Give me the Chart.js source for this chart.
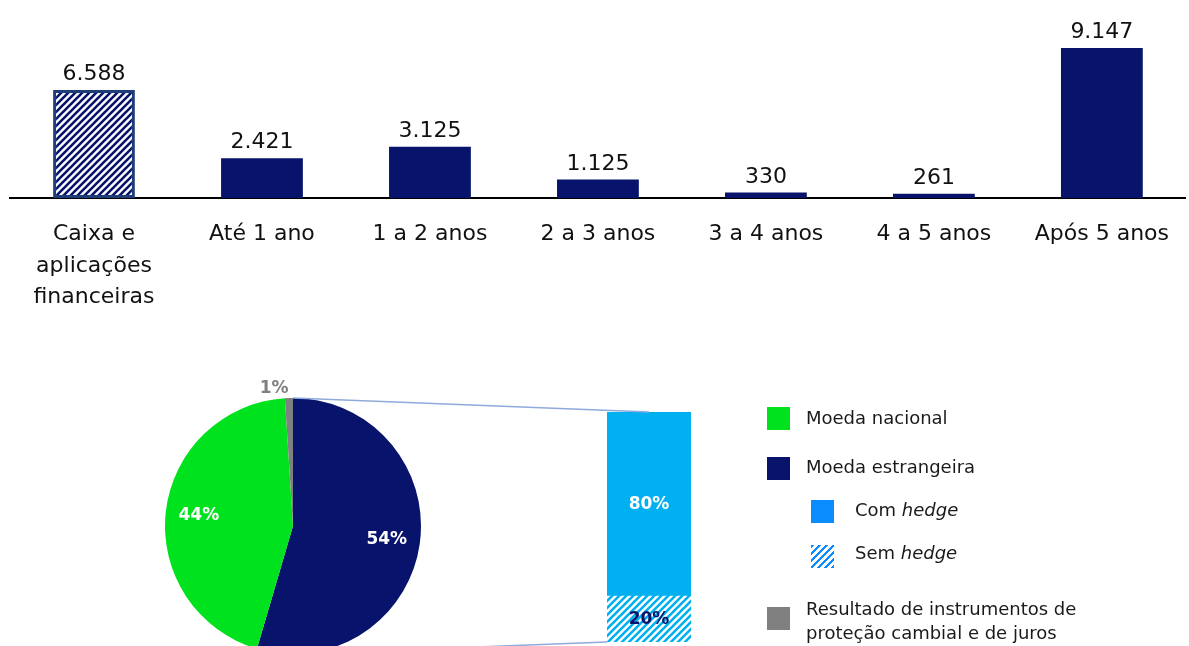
<!DOCTYPE html>
<html>
<head>
  <meta charset="utf-8">
  <title>Cronograma de amortização</title>
  <script src="https://cdn.jsdelivr.net/npm/chart.js"></script>
  <style>
    body {
      margin: 0;
      width: 1189px;
      height: 646px;
      overflow: hidden;
      background: #fff;
      position: relative;
      font-family: 'DejaVu Sans', sans-serif;
    }
    .box { position: absolute; }
    .legend-item {
      position: absolute;
      font-size: 18px;
      color: #1a1a1a;
      line-height: 24px;
    }
    .swatch {
      position: absolute;
      width: 23px;
      height: 23px;
    }
    #overlay { position: absolute; left: 0; top: 0; pointer-events: none; }
  </style>
</head>
<body>
  <div class="box" style="left:0;top:0;"><canvas id="maturityChart" width="1189" height="320"></canvas></div>
  <div class="box" style="left:155px;top:370px;"><canvas id="currencyChart" width="276" height="292"></canvas></div>
  <div class="box" style="left:607px;top:412px;"><canvas id="hedgeChart" width="84" height="230"></canvas></div>
  <canvas id="overlay" width="1189" height="646"></canvas>

  <div class="swatch" style="left:767px;top:407px;background:#00e21e;"></div>
  <div class="legend-item" style="left:806px;top:406px;">Moeda nacional</div>
  <div class="swatch" style="left:767px;top:457px;background:#08136b;"></div>
  <div class="legend-item" style="left:806px;top:455px;">Moeda estrangeira</div>
  <div class="swatch" style="left:811px;top:500px;background:#0a8cff;"></div>
  <div class="legend-item" style="left:855px;top:498px;">Com <i>hedge</i></div>
  <div class="swatch" style="left:811px;top:545px;background:repeating-linear-gradient(135deg,#0a8cff 0 2.5px,#fff 2.5px 5px);"></div>
  <div class="legend-item" style="left:855px;top:541px;">Sem <i>hedge</i></div>
  <div class="swatch" style="left:767px;top:607px;background:#808080;"></div>
  <div class="legend-item" style="left:806px;top:597px;">Resultado de instrumentos de<br>proteção cambial e de juros</div>

  <script>
    const categories = [['Caixa e', 'aplicações', 'financeiras'], 'Até 1 ano', '1 a 2 anos', '2 a 3 anos', '3 a 4 anos', '4 a 5 anos', 'Após 5 anos'];
    const amounts = [6588, 2421, 3125, 1125, 330, 261, 9147];

    const currencyLabels = ['Moeda estrangeira', 'Moeda nacional', 'Resultado de instrumentos de proteção cambial e de juros'];
    const currencyShares = [54, 44, 1];

    const hedgeLabels = ['Sem hedge', 'Com hedge'];
    const hedgeShares = [20, 80];

    const NAVY = '#08136b';
    const FONT = "'DejaVu Sans', sans-serif";

    function stripes(color) {
      const s = 7;
      const c = document.createElement('canvas');
      c.width = s; c.height = s;
      const g = c.getContext('2d');
      g.fillStyle = '#fff';
      g.fillRect(0, 0, s, s);
      g.strokeStyle = color;
      g.lineWidth = 2.6;
      g.beginPath();
      g.moveTo(-1, 1); g.lineTo(1, -1);
      g.moveTo(0, s); g.lineTo(s, 0);
      g.moveTo(s - 1, s + 1); g.lineTo(s + 1, s - 1);
      g.stroke();
      return g.createPattern(c, 'repeat');
    }

    function fmt(n) {
      return n.toString().replace(/\B(?=(\d{3})+(?!\d))/g, '.');
    }

    // valores acima das barras
    const valueLabels = {
      id: 'valueLabels',
      afterDatasetsDraw(chart) {
        const ctx = chart.ctx;
        const meta = chart.getDatasetMeta(0);
        ctx.save();
        ctx.font = '22px ' + FONT;
        ctx.fillStyle = '#111';
        ctx.textAlign = 'center';
        ctx.textBaseline = 'alphabetic';
        meta.data.forEach((bar, i) => {
          ctx.fillText(fmt(amounts[i]), bar.x, bar.y - 10);
        });
        ctx.restore();
      }
    };

    new Chart(document.getElementById('maturityChart'), {
      type: 'bar',
      data: {
        labels: categories,
        datasets: [{
          data: amounts,
          backgroundColor: amounts.map((_, i) => i === 0 ? stripes(NAVY) : NAVY),
          borderColor: amounts.map((_, i) => i === 0 ? '#1f3d78' : NAVY),
          borderWidth: amounts.map((_, i) => i === 0 ? 3 : 0),
          borderSkipped: false,
          barPercentage: 0.487,
          categoryPercentage: 1
        }]
      },
      options: {
        responsive: false,
        animation: false,
        layout: { padding: { left: 10, right: 0, top: 34, bottom: 0 } },
        plugins: { legend: { display: false }, tooltip: { enabled: false } },
        scales: {
          x: {
            grid: { display: false, drawTicks: false },
            border: { display: true, color: '#000', width: 2 },
            ticks: {
              color: '#111',
              padding: 20,
              maxRotation: 0,
              autoSkip: false,
              font: { family: FONT, size: 22, lineHeight: 1.45 }
            },
            afterFit(scale) { scale.height = 122; }
          },
          y: { display: false, min: 0, max: 10000 }
        }
      },
      plugins: [valueLabels]
    });

    // rótulos percentuais da pizza
    const pieLabels = {
      id: 'pieLabels',
      afterDatasetsDraw(chart) {
        const ctx = chart.ctx;
        const meta = chart.getDatasetMeta(0);
        ctx.save();
        ctx.font = 'bold 17px ' + FONT;
        ctx.textBaseline = 'middle';
        meta.data.forEach((arc, i) => {
          const mid = (arc.startAngle + arc.endAngle) / 2;
          const small = currencyShares[i] < 5;
          const r = small ? arc.outerRadius + 9 : arc.outerRadius * 0.74;
          const x = arc.x + Math.cos(mid) * r;
          const y = arc.y + Math.sin(mid) * r;
          ctx.fillStyle = small ? '#808080' : '#fff';
          ctx.textAlign = small ? (x < arc.x ? 'right' : 'left') : 'center';
          ctx.fillText(currencyShares[i] + '%', x, y);
        });
        ctx.restore();
      }
    };

    const pie = new Chart(document.getElementById('currencyChart'), {
      type: 'pie',
      data: {
        labels: currencyLabels,
        datasets: [{
          data: currencyShares,
          backgroundColor: [NAVY, '#00e21e', '#808080'],
          borderWidth: 0
        }]
      },
      options: {
        responsive: false,
        animation: false,
        layout: { padding: { left: 10, right: 10, top: 28, bottom: 8 } },
        plugins: { legend: { display: false }, tooltip: { enabled: false } }
      },
      plugins: [pieLabels]
    });

    const hedgeValueLabels = {
      id: 'hedgeValueLabels',
      afterDatasetsDraw(chart) {
        const ctx = chart.ctx;
        ctx.save();
        ctx.font = 'bold 17px ' + FONT;
        ctx.textAlign = 'center';
        ctx.textBaseline = 'middle';
        chart.data.datasets.forEach((ds, d) => {
          const bar = chart.getDatasetMeta(d).data[0];
          ctx.fillStyle = d === 0 ? NAVY : '#fff';
          ctx.fillText(ds.data[0] + '%', bar.x, (bar.y + bar.base) / 2 + 1);
        });
        ctx.restore();
      }
    };

    const hedge = new Chart(document.getElementById('hedgeChart'), {
      type: 'bar',
      data: {
        labels: ['Moeda estrangeira'],
        datasets: [
          { label: hedgeLabels[0], data: [hedgeShares[0]], backgroundColor: stripes('#00b0f0') },
          { label: hedgeLabels[1], data: [hedgeShares[1]], backgroundColor: '#00b0f0' }
        ]
      },
      options: {
        responsive: false,
        animation: false,
        barPercentage: 1,
        categoryPercentage: 1,
        layout: { padding: 0 },
        plugins: { legend: { display: false }, tooltip: { enabled: false } },
        scales: {
          x: { display: false, stacked: true },
          y: { display: false, stacked: true, min: 0, max: 100 }
        }
      },
      plugins: [hedgeValueLabels]
    });

    // linhas ligando a fatia da moeda estrangeira à barra de hedge
    function drawConnectors() {
      const ov = document.getElementById('overlay').getContext('2d');
      const pr = pie.canvas.getBoundingClientRect();
      const hr = hedge.canvas.getBoundingClientRect();
      const arc = pie.getDatasetMeta(0).data[0];
      const top = hedge.getDatasetMeta(1).data[0];
      const bottom = hedge.getDatasetMeta(0).data[0];
      const cx = pr.left + arc.x, cy = pr.top + arc.y, r = arc.outerRadius;
      ov.strokeStyle = '#8faadc';
      ov.lineWidth = 1.5;
      ov.beginPath();
      ov.moveTo(cx, cy - r);
      ov.lineTo(hr.left + top.x, hr.top + top.y);
      ov.moveTo(cx, cy + r);
      ov.lineTo(hr.left + bottom.x - bottom.width / 2, hr.top + bottom.base);
      ov.stroke();
    }
    drawConnectors();
  </script>
</body>
</html>
